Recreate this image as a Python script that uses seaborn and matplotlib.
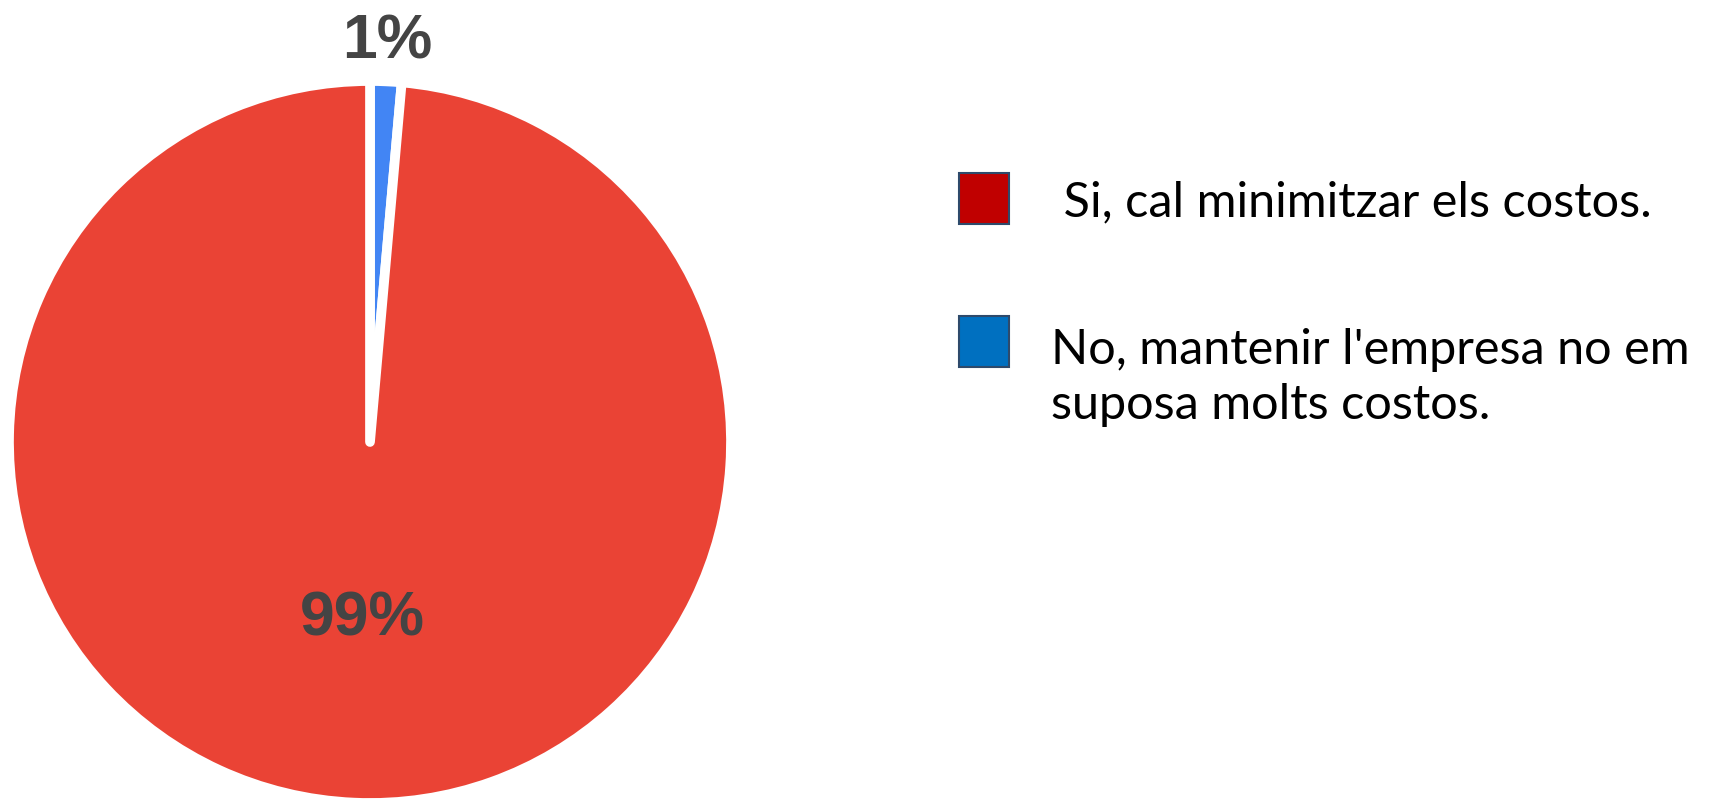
import numpy as np
import matplotlib
matplotlib.use("Agg")
import matplotlib.pyplot as plt
from matplotlib.patches import Rectangle
import seaborn as sns

# Data
categories = ["No, mantenir l'empresa no em\nsuposa molts costos.", "Si, cal minimitzar els costos."]
values = [1.4, 98.6]
pie_colors = ["#4285F4", "#EA4335"]
legend_labels = [" Si, cal minimitzar els costos.", "No, mantenir l'empresa no em\nsuposa molts costos."]
legend_colors = ["#C00000", "#0070C0"]

sns.set_theme(style="white")
plt.rcParams['font.family'] = ['DejaVu Sans']

W, H = 1717, 800
fig = plt.figure(figsize=(W / 100, H / 100), dpi=100)
fig.patch.set_facecolor("white")

cx, cy, r = 370, 442, 361
ax = fig.add_axes([(cx - r) / W, (H - cy - r) / H, 2 * r / W, 2 * r / H])
wedges, texts, autotexts = ax.pie(
    values, colors=pie_colors, startangle=90, counterclock=False,
    autopct="%.0f%%", pctdistance=0.49,
    wedgeprops=dict(edgecolor="white", linewidth=7, joinstyle="round"),
    textprops=dict(fontsize=45, fontweight="bold", color="#444444",
                   family=["Liberation Sans", "DejaVu Sans"]),
)
ax.set_xlim(-1, 1)
ax.set_ylim(-1, 1)
ax.set_aspect("equal")
ax.axis("off")

# move the small-slice label outside the pie
w = wedges[0]
mid = np.deg2rad((w.theta1 + w.theta2) / 2)
autotexts[0].set_position((1.11 * np.cos(mid), 1.11 * np.sin(mid)))
autotexts[0].set_clip_on(False)

# Legend (drawn as figure artists)
legend_font = ['Lato', 'DejaVu Sans']
patch_y = [173, 316]
patch_x = 959
text_x = [1051, 1051]
text_top = [180, 328]
for i, (lab, col) in enumerate(zip(legend_labels, legend_colors)):
    y0 = patch_y[i]
    fig.add_artist(Rectangle((patch_x / W, 1 - (y0 + 51) / H), 50 / W, 51 / H,
                             transform=fig.transFigure, facecolor=col,
                             edgecolor="#2E4A6B", linewidth=1.5))
    fig.text(text_x[i] / W, 1 - text_top[i] / H, lab,
             fontsize=35, family=legend_font, color="black",
             ha="left", va="top", linespacing=1.3)

fig.savefig("out.png", dpi=100, facecolor="white")
